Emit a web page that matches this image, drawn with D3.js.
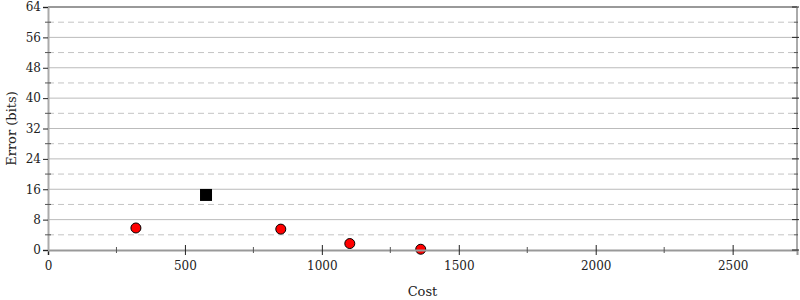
<!DOCTYPE html>
<html>
<head>
<meta charset="utf-8">
<script src="https://cdn.jsdelivr.net/npm/d3@7"></script>
<style>
  body { margin: 0; background: #fff; }
  svg text { font-family: "DejaVu Serif", serif; font-size: 12px; fill: #222; }
</style>
</head>
<body>
<svg id="chart" width="800" height="300"></svg>
<script>
// data
const circleCost = [321, 850, 1102, 1361]
const circleError = [5.8, 5.5, 1.7, 0.2]
const squareCost = [577]
const squareError = [14.5]
const xTicks = [0, 500, 1000, 1500, 2000, 2500]
const yTicks = [0, 8, 16, 24, 32, 40, 48, 56, 64]

const margin = { top: 7, right: 3, bottom: 50, left: 48 }
const width = 800 - margin.left - margin.right
const height = 300 - margin.top - margin.bottom

const svg = d3.select("#chart")
  .append("g")
    .attr("transform", "translate(" + margin.left + "," + margin.top + ")")

const xScale = d3.scaleLinear().domain([0, 2735]).range([0, width])
const yScale = d3.scaleLinear().domain([0, 64]).range([height, 0])

const minorY = d3.range(4, 64, 8)
const minorX = d3.range(250, 2735, 500)

// grid
svg.selectAll(".grid-major")
  .data(yTicks.filter(d => d > 0 && d < 64))
  .enter().append("line")
    .attr("x1", 0).attr("x2", width)
    .attr("y1", d => yScale(d)).attr("y2", d => yScale(d))
    .attr("stroke", "#bbb").attr("stroke-width", 1)
svg.selectAll(".grid-minor")
  .data(minorY)
  .enter().append("line")
    .attr("x1", 0).attr("x2", width)
    .attr("y1", d => yScale(d)).attr("y2", d => yScale(d))
    .attr("stroke", "#c4c4c4").attr("stroke-dasharray", "6,4")

// frame
svg.append("line").attr("x1", 0).attr("x2", width).attr("y1", 0).attr("y2", 0)
  .attr("stroke", "#999").attr("stroke-width", 2)
svg.append("line").attr("x1", width).attr("x2", width).attr("y1", 0).attr("y2", height)
  .attr("stroke", "#aaa").attr("stroke-width", 2)

// marks
svg.selectAll(".dot")
  .data(circleCost.map((c, i) => [c, circleError[i]]))
  .enter().append("circle")
    .attr("cx", d => xScale(d[0]))
    .attr("cy", d => yScale(d[1]))
    .attr("r", 5)
    .attr("fill", "#f00")
    .attr("stroke", "#000")
    .attr("stroke-width", 1)
svg.selectAll(".sq")
  .data(squareCost.map((c, i) => [c, squareError[i]]))
  .enter().append("rect")
    .attr("x", d => xScale(d[0]) - 6)
    .attr("y", d => yScale(d[1]) - 6)
    .attr("width", 12).attr("height", 12)
    .attr("fill", "#000")

// axes
const xAxis = svg.append("g")
  .attr("transform", "translate(0," + height + ")")
  .call(d3.axisBottom(xScale).tickValues(xTicks).tickFormat(d3.format("d")).tickSize(5).tickPadding(6))
xAxis.attr("font-family", "DejaVu Serif").attr("font-size", 13)
xAxis.select(".domain").attr("stroke", "#999").attr("stroke-width", 2)
xAxis.selectAll(".tick line").attr("y1", -5).attr("stroke", "#222")
svg.append("g").selectAll("line")
  .data(minorX)
  .enter().append("line")
    .attr("x1", d => xScale(d)).attr("x2", d => xScale(d))
    .attr("y1", height - 3).attr("y2", height + 3)
    .attr("stroke", "#555")

const yAxis = svg.append("g")
  .call(d3.axisLeft(yScale).tickValues(yTicks).tickSize(5).tickPadding(2))
yAxis.attr("font-family", "DejaVu Serif").attr("font-size", 13)
yAxis.select(".domain").attr("stroke", "#aaa").attr("stroke-width", 2)
yAxis.selectAll(".tick line").attr("stroke", "#222")
svg.append("g").selectAll("line")
  .data(minorY)
  .enter().append("line")
    .attr("x1", -3).attr("x2", 3)
    .attr("y1", d => yScale(d)).attr("y2", d => yScale(d))
    .attr("stroke", "#555")

// right side ticks
svg.append("g").selectAll("line")
  .data(yTicks)
  .enter().append("line")
    .attr("x1", width - 5).attr("x2", width + 2)
    .attr("y1", d => yScale(d)).attr("y2", d => yScale(d))
    .attr("stroke", "#222")
svg.append("g").selectAll("line")
  .data(minorY)
  .enter().append("line")
    .attr("x1", width - 3).attr("x2", width + 1)
    .attr("y1", d => yScale(d)).attr("y2", d => yScale(d))
    .attr("stroke", "#555")

// titles
svg.append("text")
  .attr("x", width / 2).attr("y", height + 46)
  .attr("text-anchor", "middle")
  .style("font-size", "13px")
  .text("Cost")
svg.append("text")
  .attr("transform", "translate(-32," + (height / 2) + ") rotate(-90)")
  .attr("text-anchor", "middle")
  .style("font-size", "13px")
  .text("Error (bits)")
</script>
</body>
</html>
